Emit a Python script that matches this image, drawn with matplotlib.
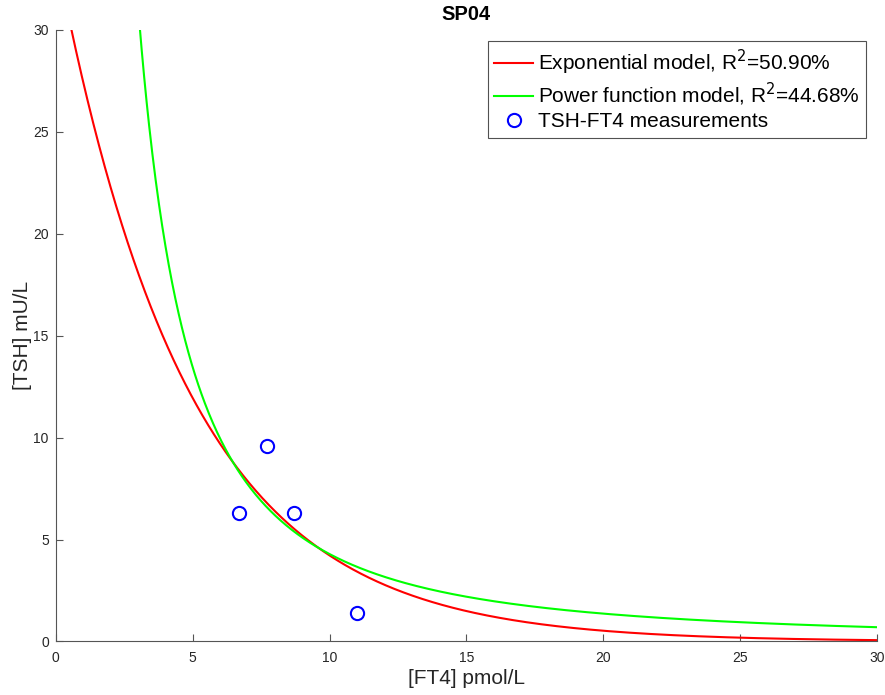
import numpy as np
import matplotlib.pyplot as plt

plt.rcParams['font.family'] = ['Liberation Sans', 'DejaVu Sans']

ft4 = [6.69, 7.70, 8.69, 11.0]
tsh = [6.31, 9.60, 6.31, 1.38]

# Fitted model parameters (estimated from the curves)
exp_a, exp_b = 33.8, 0.208     # TSH = a * exp(-b * FT4)
pow_a, pow_b = 191.6, 1.65     # TSH = a * FT4^(-b)
r2_exp = 50.90
r2_pow = 44.68

x = np.linspace(0.05, 30, 1000)

fig = plt.figure(figsize=(8.85, 6.95), dpi=100)
ax = fig.add_axes([0.063, 0.077, 0.928, 0.880])

ax.plot(x, exp_a * np.exp(-exp_b * x), color='#ff0000', lw=1.5,
        label='Exponential model, R$^2$=%.2f%%' % r2_exp)
ax.plot(x, pow_a * x ** (-pow_b), color='#00ff00', lw=1.5,
        label='Power function model, R$^2$=%.2f%%' % r2_pow)
ax.plot(ft4, tsh, 'o', mfc='none', mec='#0000ff', mew=1.5, ms=9.5,
        label='TSH-FT4 measurements')

ax.set_xlim(0, 30)
ax.set_ylim(0, 30)
ax.set_xticks(range(0, 31, 5))
ax.set_yticks(range(0, 31, 5))
ax.spines['top'].set_visible(False)
ax.spines['right'].set_visible(False)
for s in ['left', 'bottom']:
    ax.spines[s].set_color('#555555')
    ax.spines[s].set_linewidth(0.8)
ax.tick_params(direction='in', length=5, labelsize=10, colors='#555555',
               labelcolor='#262626')
ax.tick_params(axis='x', pad=7)
ax.tick_params(axis='y', pad=5)

ax.set_xlabel('[FT4] pmol/L', fontsize=15, color='#262626', labelpad=3)
ax.set_ylabel('[TSH] mU/L', fontsize=15, color='#262626', labelpad=1)
ax.set_title('SP04', fontsize=14.5, fontweight='bold', pad=7)

leg = ax.legend(loc='upper right', fontsize=15, frameon=True, fancybox=False,
                edgecolor='#262626', handlelength=1.9, handletextpad=0.2,
                labelspacing=0.2, borderpad=0.3, borderaxespad=0.55)
leg.get_frame().set_linewidth(0.8)

fig.savefig('out.png', dpi=100)
